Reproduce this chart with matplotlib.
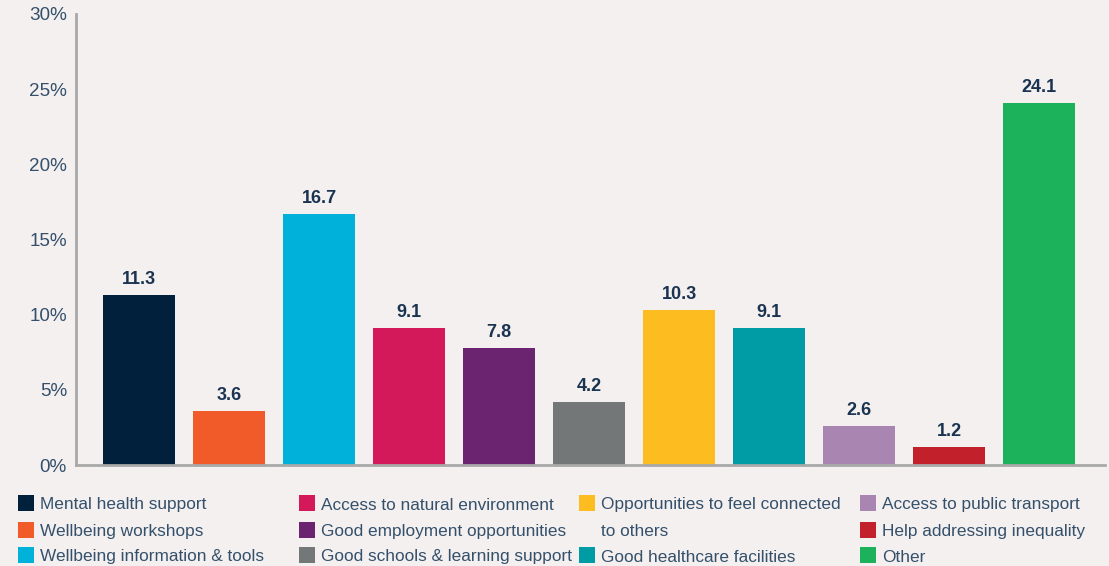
import matplotlib
matplotlib.use("Agg")
import matplotlib.pyplot as plt
from matplotlib.patches import Rectangle

# Survey responses (% of respondents)
categories = [
    "Mental health support",
    "Wellbeing workshops",
    "Wellbeing information & tools",
    "Access to natural environment",
    "Good employment opportunities",
    "Good schools & learning support",
    "Opportunities to feel connected\nto others",
    "Good healthcare facilities",
    "Access to public transport",
    "Help addressing inequality",
    "Other",
]
values = [11.3, 3.6, 16.7, 9.1, 7.8, 4.2, 10.3, 9.1, 2.6, 1.2, 24.1]
colors = [
    "#00203b", "#f15a29", "#00b1da", "#d4195a", "#6a2470", "#747778",
    "#fdbc1f", "#009ca6", "#a986b2", "#c2202a", "#1bb25b",
]
yticks = [0, 5, 10, 15, 20, 25, 30]
ytick_labels = ["0%", "5%", "10%", "15%", "20%", "25%", "30%"]

BG = "#f4f0ef"
TEXT = "#34506b"
VALUE_TEXT = "#1a3350"
FONT = ["Liberation Sans", "DejaVu Sans"]
plt.rcParams["font.family"] = FONT

W, H = 1109, 566
fig = plt.figure(figsize=(W / 100, H / 100), dpi=100, facecolor=BG)
ax = fig.add_axes([76 / W, 1 - 465 / H, (1105 - 76) / W, (465 - 14) / H])
ax.set_facecolor(BG)

x = list(range(len(values)))
bars = ax.bar(x, values, width=0.8, color=colors, zorder=2)
for xi, v in zip(x, values):
    ax.annotate(f"{v:.1f}", (xi, v), xytext=(0, 8), textcoords="offset points",
                ha="center", va="baseline", fontsize=13, fontweight="bold",
                color=VALUE_TEXT)

ax.set_xlim(-0.7, 10.733)
ax.set_ylim(0, 30)
ax.set_xticks([])
ax.set_yticks(yticks)
ax.set_yticklabels(ytick_labels)
ax.tick_params(axis="y", length=0, pad=6.5, labelsize=13.6, labelcolor=TEXT)
for side in ("top", "right"):
    ax.spines[side].set_visible(False)
for side in ("left", "bottom"):
    ax.spines[side].set_color("#a9a9a9")
    ax.spines[side].set_linewidth(2)

# Legend laid out in four columns; the long label wraps onto a second row
col_x = [18, 299, 579, 860]
row_y = [503, 529.5, 555]
row_step = row_y[1] - row_y[0]
layout = [(0, 0), (0, 1), (0, 2), (1, 0), (1, 1), (1, 2),
          (2, 0), (2, 2), (3, 0), (3, 1), (3, 2)]
sq = 16
for label, color, (c, r) in zip(categories, colors, layout):
    x0 = col_x[c]
    yc = row_y[r]
    fig.patches.append(Rectangle((x0 / W, 1 - (yc + sq / 2) / H), sq / W, sq / H,
                                 transform=fig.transFigure, facecolor=color,
                                 edgecolor="none"))
    for k, line in enumerate(label.split("\n")):
        fig.text((x0 + sq + 6) / W, 1 - (yc + 6.5 + k * row_step) / H, line,
                 ha="left", va="baseline", fontsize=12.4, color=TEXT)

fig.savefig("out.png", dpi=100, facecolor=BG)
